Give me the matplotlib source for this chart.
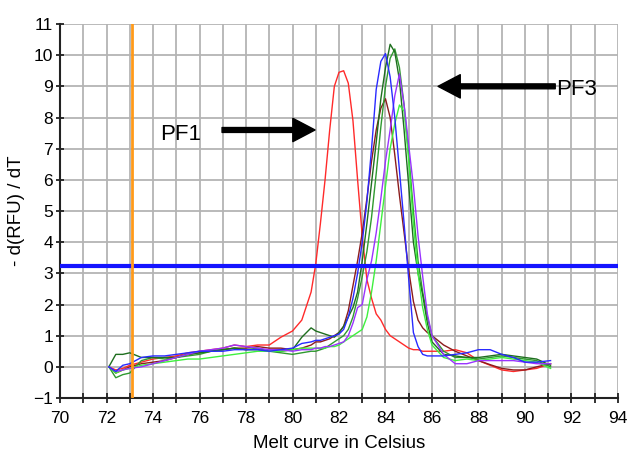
import matplotlib
matplotlib.use("Agg")
import matplotlib.pyplot as plt
from matplotlib.ticker import MultipleLocator

# temperature samples (deg C)
temps = [72.1, 72.4, 72.7, 73.0, 73.5, 74.0, 74.5, 75.0, 75.5, 76.0,
         76.5, 77.0, 77.5, 78.0, 78.5, 79.0, 79.5, 80.0, 80.4, 80.8,
         81.0, 81.2, 81.4, 81.6, 81.8, 82.0, 82.2, 82.4, 82.6, 82.8,
         83.0, 83.2, 83.4, 83.6, 83.8, 84.0, 84.2, 84.4, 84.6, 84.8,
         85.0, 85.2, 85.4, 85.6, 85.8, 86.0, 86.5, 87.0, 87.5, 88.0,
         88.5, 89.0, 89.5, 90.0, 90.5, 91.1]

# -d(RFU)/dT per sample
pf1_red = [0.0, -0.1, -0.05, 0.05, 0.15, 0.25, 0.3, 0.35, 0.45, 0.5,
           0.55, 0.6, 0.7, 0.65, 0.7, 0.7, 0.95, 1.15, 1.5, 2.4,
           3.3, 4.6, 6.0, 7.6, 9.0, 9.45, 9.5, 9.1, 7.9, 6.0,
           4.2, 2.8, 2.2, 1.7, 1.5, 1.2, 1.0, 0.9, 0.8, 0.7,
           0.6, 0.55, 0.55, 0.5, 0.5, 0.5, 0.5, 0.55, 0.45, 0.2,
           0.05, -0.1, -0.15, -0.1, -0.05, 0.1]
blue = [0.0, -0.15, 0.05, 0.1, 0.3, 0.35, 0.35, 0.4, 0.45, 0.5,
        0.5, 0.5, 0.55, 0.55, 0.55, 0.5, 0.55, 0.6, 0.75, 0.8,
        0.85, 0.85, 0.9, 0.95, 1.0, 1.05, 1.2, 1.6, 2.2, 3.0,
        4.0, 5.3, 7.0, 8.9, 9.8, 10.05, 9.3, 8.0, 6.3, 4.6,
        2.8, 1.1, 0.65, 0.4, 0.35, 0.35, 0.35, 0.4, 0.45, 0.55,
        0.55, 0.4, 0.3, 0.15, 0.15, 0.2]
brown = [0.0, -0.2, -0.1, 0.0, 0.1, 0.15, 0.2, 0.3, 0.4, 0.45,
         0.5, 0.55, 0.6, 0.6, 0.65, 0.6, 0.6, 0.55, 0.6, 0.7,
         0.8, 0.8, 0.85, 0.9, 1.0, 1.1, 1.3, 1.8, 2.6, 3.4,
         4.3, 5.4, 6.6, 7.6, 8.3, 8.6, 8.0, 6.8, 5.5, 4.3,
         3.1, 2.1, 1.5, 1.25, 1.1, 1.0, 0.7, 0.5, 0.35, 0.2,
         0.07, -0.05, -0.1, -0.1, 0.0, 0.1]
dark_green = [0.0, 0.4, 0.4, 0.45, 0.3, 0.3, 0.3, 0.3, 0.4, 0.45,
              0.5, 0.55, 0.6, 0.55, 0.55, 0.5, 0.5, 0.55, 0.95, 1.25,
              1.15, 1.1, 1.05, 1.0, 0.95, 1.1, 1.3, 1.6, 1.9, 2.4,
              3.4, 4.6, 5.9, 7.2, 8.6, 9.6, 10.35, 10.1, 9.2, 7.6,
              5.8, 4.0, 3.0, 2.3, 1.4, 0.8, 0.4, 0.35, 0.3, 0.3,
              0.35, 0.4, 0.35, 0.3, 0.25, 0.05]
green = [0.0, -0.35, -0.25, -0.2, 0.2, 0.3, 0.25, 0.3, 0.35, 0.4,
         0.5, 0.55, 0.6, 0.55, 0.6, 0.5, 0.45, 0.4, 0.45, 0.5,
         0.5, 0.55, 0.6, 0.7, 0.8, 0.9, 1.0, 1.2, 1.6, 2.2,
         2.9, 3.7, 4.8, 6.2, 7.7, 9.0, 9.9, 10.2, 9.6, 8.4,
         6.8, 5.0, 3.4, 2.4, 1.6, 1.0, 0.5, 0.3, 0.3, 0.25,
         0.3, 0.35, 0.3, 0.25, 0.2, 0.0]
lime = [0.0, -0.2, -0.1, -0.05, 0.05, 0.1, 0.15, 0.2, 0.25, 0.25,
        0.3, 0.35, 0.4, 0.45, 0.5, 0.5, 0.5, 0.55, 0.6, 0.6,
        0.6, 0.6, 0.6, 0.65, 0.65, 0.7, 0.8, 0.9, 1.0, 1.1,
        1.2, 1.6, 2.4, 3.4, 4.6, 5.8, 7.0, 7.8, 8.4, 8.2,
        6.6, 4.6, 3.0, 1.9, 1.2, 0.7, 0.3, 0.2, 0.25, 0.2,
        0.25, 0.3, 0.25, 0.2, 0.15, -0.05]
purple = [0.0, -0.15, -0.1, -0.05, 0.0, 0.1, 0.2, 0.3, 0.4, 0.5,
          0.55, 0.6, 0.7, 0.65, 0.6, 0.55, 0.55, 0.5, 0.55, 0.55,
          0.6, 0.6, 0.65, 0.65, 0.7, 0.75, 0.8, 1.0, 1.4, 1.9,
          2.0, 2.8, 3.4, 4.3, 5.4, 6.6, 7.6, 8.7, 9.4, 8.4,
          7.1, 5.8, 4.2, 2.9, 1.7, 1.0, 0.4, 0.1, 0.1, 0.2,
          0.2, 0.2, 0.2, 0.15, 0.1, 0.1]

series = [
    (pf1_red, "#ff2a2a"),
    (brown, "#8b1c1c"),
    (green, "#2f9a2f"),
    (dark_green, "#1e6e1e"),
    (lime, "#3ef03e"),
    (purple, "#9a33ff"),
    (blue, "#2a2aff"),
]

threshold = 3.25
start_temp = 73.1

plt.rcParams["font.family"] = ["Liberation Sans", "DejaVu Sans"]

fig = plt.figure(figsize=(6.29, 4.59), dpi=100)
ax = fig.add_axes([0.0954, 0.1329, 0.8871, 0.8148])

for vals, col in series:
    ax.plot(temps, vals, color=col, lw=1.0, zorder=3)

ax.axhline(threshold, color="#1414ff", lw=3, zorder=4)
ax.axvline(start_temp, color="#ff9a1a", lw=2, zorder=4)

# arrows and labels
ax.annotate("", xy=(80.97, 7.6), xytext=(76.97, 7.6),
            arrowprops=dict(arrowstyle="simple,head_length=1.0,head_width=1.05,tail_width=0.22",
                            mutation_scale=16, fc="black", ec="black",
                            shrinkA=0, shrinkB=0), zorder=5)
ax.text(75.2, 7.45, "PF1", fontsize=16, ha="center", va="center")
ax.annotate("", xy=(86.26, 9.0), xytext=(91.3, 9.0),
            arrowprops=dict(arrowstyle="simple,head_length=1.0,head_width=1.05,tail_width=0.22",
                            mutation_scale=16, fc="black", ec="black",
                            shrinkA=0, shrinkB=0), zorder=5)
ax.text(92.2, 8.9, "PF3", fontsize=16, ha="center", va="center")

ax.set_xlim(70, 94)
ax.set_ylim(-1, 11)
ax.xaxis.set_major_locator(MultipleLocator(2))
ax.xaxis.set_minor_locator(MultipleLocator(1))
ax.yaxis.set_major_locator(MultipleLocator(1))
ax.grid(True, which="both", color="#b4b4b4", lw=1.3, zorder=0)
ax.set_axisbelow(True)

for s in ["top", "right"]:
    ax.spines[s].set_visible(False)
for s in ["left", "bottom"]:
    ax.spines[s].set_linewidth(1.5)
    ax.spines[s].set_color("#222222")

ax.tick_params(axis="both", which="both", direction="inout", length=7,
               width=1.3, labelsize=12.5, color="#222222")
ax.tick_params(axis="x", pad=6)
ax.tick_params(axis="y", length=6, pad=2)

ax.set_xlabel("Melt curve in Celsius", fontsize=13.5, labelpad=6)
ax.set_ylabel("- d(RFU) / dT", fontsize=13.5, labelpad=6)

fig.savefig("out.png", dpi=100)
